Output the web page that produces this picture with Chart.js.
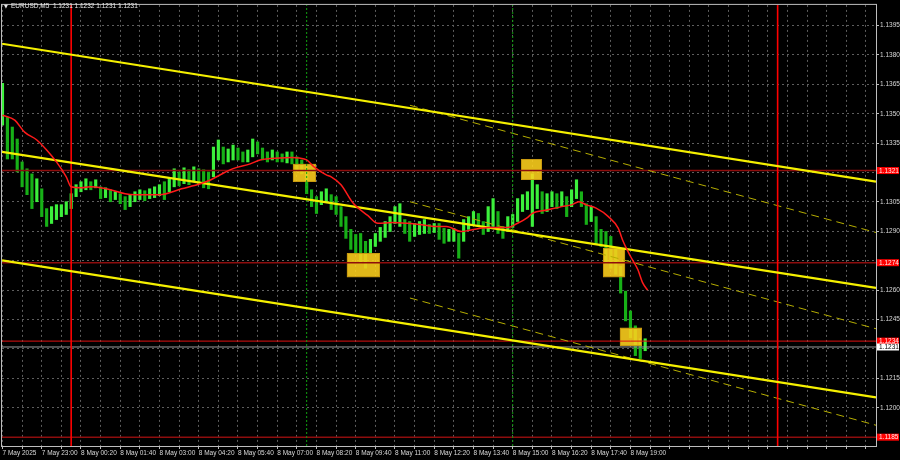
<!DOCTYPE html>
<html><head><meta charset="utf-8">
<script src="https://cdn.jsdelivr.net/npm/chart.js@4.4.1/dist/chart.umd.min.js"></script>
<style>html,body{margin:0;padding:0;background:#000;}#wrap{width:900px;height:460px;}</style>
</head><body><div id="wrap"><canvas id="c" width="900" height="460"></canvas></div>
<script>
// ---------- DATA ----------
const symbolTitle = 'EURUSD,M5  1.1231 1.1232 1.1231 1.1231';
// bottom labels, one every 16 M5 bars starting at bar 0
const timeLabels = ['7 May 2025','7 May 23:00','8 May 00:20','8 May 01:40','8 May 03:00','8 May 04:20','8 May 05:40','8 May 07:00','8 May 08:20','8 May 09:40','8 May 11:00','8 May 12:20','8 May 13:40','8 May 15:00','8 May 16:20','8 May 17:40','8 May 19:00'];
const priceTicks = [1.1395,1.1380,1.1365,1.1350,1.1335,1.1320,1.1305,1.1290,1.1275,1.1260,1.1245,1.1230,1.1215,1.1200,1.1185];
// candle ranges (one entry every 2 bars, 10 minutes)
const candleHigh = [1.13655,1.13482,1.13432,1.13371,1.13254,1.13219,1.13193,1.13168,1.13117,1.13016,
1.13026,1.13036,1.13036,1.13051,1.13092,1.13138,1.13153,1.13168,1.13153,1.13163,
1.13127,1.13122,1.13112,1.13102,1.13092,1.13077,1.13087,1.13102,1.13112,1.13107,
1.13117,1.13127,1.13138,1.13153,1.13173,1.13219,1.13203,1.13224,1.13214,1.13229,
1.13219,1.13214,1.13203,1.13330,1.13366,1.13330,1.13320,1.13340,1.13325,1.13305,
1.13315,1.13371,1.13356,1.13325,1.13305,1.13315,1.13305,1.13295,1.13305,1.13305,
1.13280,1.13264,1.13229,1.13112,1.13077,1.13102,1.13117,1.13087,1.13077,1.13026,
1.12975,1.12910,1.12884,1.12889,1.12849,1.12859,1.12889,1.12920,1.12950,1.12975,
1.13026,1.13041,1.12960,1.12950,1.12940,1.12950,1.12960,1.12935,1.12940,1.12940,
1.12915,1.12910,1.12915,1.12889,1.12960,1.12975,1.13001,1.12991,1.12950,1.13026,
1.13067,1.13001,1.12925,1.12975,1.12986,1.13067,1.13087,1.13102,1.13193,1.13138,
1.13102,1.13092,1.13102,1.13092,1.13102,1.13077,1.13112,1.13163,1.13102,1.13041,
1.13026,1.12975,1.12910,1.12899,1.12874,1.12813,1.12722,1.12595,1.12494,1.12418,
1.12352,1.12352];
const candleLow = [1.13442,1.13269,1.13269,1.13203,1.13127,1.13087,1.13016,1.13051,1.12975,1.12925,
1.12940,1.12960,1.12975,1.12986,1.13016,1.13077,1.13102,1.13112,1.13112,1.13122,
1.13067,1.13072,1.13051,1.13062,1.13041,1.13011,1.13026,1.13051,1.13062,1.13056,
1.13067,1.13072,1.13082,1.13062,1.13102,1.13127,1.13132,1.13143,1.13138,1.13153,
1.13143,1.13122,1.13117,1.13178,1.13264,1.13244,1.13254,1.13264,1.13264,1.13254,
1.13254,1.13280,1.13295,1.13264,1.13254,1.13264,1.13254,1.13254,1.13249,1.13244,
1.13214,1.13193,1.13092,1.13026,1.12991,1.13036,1.13051,1.13011,1.12986,1.12925,
1.12864,1.12808,1.12788,1.12737,1.12712,1.12788,1.12823,1.12849,1.12869,1.12899,
1.12940,1.12925,1.12889,1.12849,1.12874,1.12884,1.12889,1.12889,1.12894,1.12859,
1.12839,1.12849,1.12849,1.12763,1.12849,1.12910,1.12935,1.12925,1.12884,1.12899,
1.12925,1.12889,1.12864,1.12899,1.12920,1.12950,1.13001,1.13011,1.12925,1.13016,
1.12991,1.13001,1.13026,1.13016,1.13026,1.12975,1.13026,1.13067,1.13026,1.12935,
1.12950,1.12833,1.12823,1.12737,1.12712,1.12681,1.12585,1.12443,1.12357,1.12266,
1.12251,1.12291];
// moving average (bar index, value)
const maBar = [0,5,9,14,18,22,26,28,32,36,40,44,50,54,60,64,73,81,85,89,94,101,105,113,118,121,124,127,132,134,138,143,149,153,159,165,170,176,181,187,191,198,206,210,214,216,222,228,232,235,238,242,247,251,253,256,259,261,263];
const maValue = [1.13492,1.13467,1.13406,1.13366,1.13315,1.13254,1.13178,1.13127,1.13122,1.13127,1.13122,1.13112,1.13092,1.13087,1.13087,1.13087,1.13117,1.13144,1.13163,1.13190,1.13220,1.13244,1.13264,1.13274,1.13276,1.13274,1.13264,1.13229,1.13188,1.13178,1.13138,1.13043,1.12980,1.12941,1.12945,1.12941,1.12935,1.12925,1.12925,1.12899,1.12907,1.12920,1.12920,1.12941,1.12970,1.12992,1.13009,1.13026,1.13035,1.13051,1.13035,1.13018,1.12975,1.12916,1.12849,1.12773,1.12705,1.12637,1.12600];
// channel lines: start bar, start price, end bar, end price
const solidStartBar = [-0.2,-0.2,-0.2];
const solidStartPrice = [1.13857,1.13305,1.12752];
const solidEndBar = [356.1,356.1,356.1];
const solidEndPrice = [1.13153,1.12611,1.12053];
const dashStartBar = [166.1,166.1,166.1];
const dashStartPrice = [1.13543,1.13051,1.12560];
const dashEndBar = [356.1,356.1,356.1];
const dashEndPrice = [1.12894,1.12403,1.11911];
// horizontal levels
const levelMajor = [1.1321,1.1274,1.1185];
const levelSignal = 1.1234;
const bidPrice = 1.1231;
const tagPrices = [1.1321,1.1274,1.1234,1.1185];
// vertical markers (bar index)
const dayLines = [28,316];
const sessionLines = [124,208];
// signal boxes
const boxBarFrom = [118.4,140.4,211.4,244.8,251.7];
const boxBarTo = [127.8,153.9,219.9,253.8,260.7];
const boxPriceHi = [1.13244,1.12788,1.13269,1.12813,1.12408];
const boxPriceLo = [1.13153,1.12666,1.13163,1.12666,1.12317];

const X_MIN = -0.2, X_MAX = 356.1, Y_MIN = 1.11805, Y_MAX = 1.14055;
const FONT = '"Liberation Sans", Arial, sans-serif';

// ---------- DATASETS ----------
const candleData = candleHigh.map((h,i)=>({x:i*2, y:[candleLow[i], h]}));
const candleColors = candleHigh.map((h,i)=>{
  if (i===0) return '#3cf03c';
  const m = (h+candleLow[i])/2, pm = (candleHigh[i-1]+candleLow[i-1])/2;
  return m >= pm ? '#3cf03c' : '#17b017';
});
const datasets = [];
datasets.push({type:'bar', data:candleData, backgroundColor:candleColors, borderWidth:0, barThickness:2.5, grouped:false, order:10});
levelMajor.forEach(p=>datasets.push({type:'line', data:[{x:X_MIN,y:p},{x:X_MAX,y:p}], borderColor:'#8e0d0d', borderWidth:1.6, pointRadius:0, order:9}));
datasets.push({type:'line', data:[{x:X_MIN,y:levelSignal},{x:X_MAX,y:levelSignal}], borderColor:'#e01010', borderWidth:1, pointRadius:0, order:8});
datasets.push({type:'line', data:[{x:X_MIN,y:bidPrice},{x:X_MAX,y:bidPrice}], borderColor:'#9a9a9a', borderWidth:1, pointRadius:0, order:8});
dayLines.forEach(b=>datasets.push({type:'line', data:[{x:b,y:Y_MIN},{x:b,y:Y_MAX}], borderColor:'#ff0000', borderWidth:1.6, pointRadius:0, order:3}));
sessionLines.forEach(b=>datasets.push({type:'line', data:[{x:b,y:Y_MIN},{x:b,y:Y_MAX}], borderColor:'#10a010', borderWidth:1, borderDash:[2,2], pointRadius:0, order:3}));
for (let k=0;k<dashStartBar.length;k++) datasets.push({type:'line', data:[{x:dashStartBar[k],y:dashStartPrice[k]},{x:dashEndBar[k],y:dashEndPrice[k]}], borderColor:'#b5ad00', borderWidth:1, borderDash:[8,5], pointRadius:0, order:4});
for (let k=0;k<solidStartBar.length;k++) datasets.push({type:'line', data:[{x:solidStartBar[k],y:solidStartPrice[k]},{x:solidEndBar[k],y:solidEndPrice[k]}], borderColor:'#f5f000', borderWidth:2.2, pointRadius:0, order:2});
datasets.push({type:'line', data:maBar.map((b,i)=>({x:b,y:maValue[i]})), borderColor:'#ff1a1a', borderWidth:1.5, pointRadius:0, cubicInterpolationMode:'monotone', order:1});

const overlay = {
  id:'overlay',
  afterDatasetDraw(chart, args){
    if (args.index !== 0) return;
    const {ctx, scales:{x,y}} = chart;
    ctx.save();
    for (let k=0;k<boxBarFrom.length;k++){
      const x0=x.getPixelForValue(boxBarFrom[k]), x1=x.getPixelForValue(boxBarTo[k]);
      const y0=y.getPixelForValue(boxPriceHi[k]), y1=y.getPixelForValue(boxPriceLo[k]);
      ctx.globalAlpha = 0.88;
      ctx.fillStyle = '#ffd21c';
      ctx.fillRect(x0,y0,x1-x0,y1-y0);
      ctx.globalAlpha = 1;
      ctx.strokeStyle = '#c99a10';
      ctx.lineWidth = 1;
      ctx.strokeRect(Math.round(x0)+0.5,Math.round(y0)+0.5,Math.round(x1-x0)-1,Math.round(y1-y0)-1);
    }
    ctx.restore();
  },
  afterDraw(chart){
    const {ctx, chartArea:a, scales:{y}} = chart;
    ctx.save();
    ctx.strokeStyle = '#bdbdbd'; ctx.lineWidth = 1;
    ctx.strokeRect(a.left-0.5, a.top-0.5, a.right-a.left+1, a.bottom-a.top+1);
    ctx.font = '6.5px ' + FONT;
    ctx.textBaseline = 'middle';
    tagPrices.forEach(p=>{
      const py = y.getPixelForValue(p);
      ctx.fillStyle = '#ff0000';
      ctx.fillRect(a.right+1, py-3.5, 22, 7);
      ctx.fillStyle = '#ffe8e8';
      ctx.fillText(p.toFixed(4), a.right+3, py+0.5);
    });
    const by = y.getPixelForValue(bidPrice);
    ctx.fillStyle = '#ffffff';
    ctx.fillRect(a.right+1, by-3.5, 22, 7);
    ctx.fillStyle = '#000000';
    ctx.fillText(bidPrice.toFixed(4), a.right+3, by+0.5);
    // title
    ctx.fillStyle = '#e8e8e8';
    ctx.font = '5px "DejaVu Sans", sans-serif';
    ctx.fillText('\u25BC', 4, 6.5);
    ctx.font = '6.5px ' + FONT;
    ctx.fillText(symbolTitle, 11, 6.5);
    ctx.restore();
  }
};

const xTickValues = [];
for (let b=0; b<=352; b+=8) xTickValues.push(b);

new Chart(document.getElementById('c'), {
  type:'line',
  data:{datasets},
  options:{
    responsive:false, animation:false, devicePixelRatio:1,
    layout:{padding:{left:2, top:2, right:0, bottom:0}},
    plugins:{legend:{display:false}, tooltip:{enabled:false}, title:{display:false}},
    scales:{
      x:{type:'linear', min:X_MIN, max:X_MAX, offset:false,
        afterBuildTicks:s=>{ s.ticks = xTickValues.map(v=>({value:v})); },
        afterFit:s=>{ s.height = 14; },
        grid:{color:'#5e5e5e', lineWidth:1, offset:false, drawTicks:true, tickLength:3, tickColor:'#bdbdbd', tickBorderDash:[]},
        border:{display:false, dash:[2,3]},
        ticks:{autoSkip:false, maxRotation:0, minRotation:0, align:'start', padding:0, color:'#d8d8d8', font:{family:FONT, size:6.5},
          callback:(v)=>{ const k=v/16; return (Number.isInteger(k) && k<timeLabels.length) ? timeLabels[k] : ''; }}
      },
      y:{type:'linear', position:'right', min:Y_MIN, max:Y_MAX, beginAtZero:false,
        afterBuildTicks:s=>{ s.ticks = priceTicks.map(v=>({value:v})); },
        afterFit:s=>{ s.width = 24; },
        grid:{color:'#5e5e5e', lineWidth:1, drawTicks:true, tickLength:3, tickColor:'#bdbdbd', tickBorderDash:[]},
        border:{display:false, dash:[2,3]},
        ticks:{padding:1, color:'#d8d8d8', font:{family:FONT, size:6.5},
          callback:(v)=>{ if (tagPrices.some(t=>Math.abs(t-v)<0.0004) || Math.abs(bidPrice-v)<0.0004) return ''; return v.toFixed(4); }}
      }
    }
  },
  plugins:[overlay]
});
</script>
</body></html>
